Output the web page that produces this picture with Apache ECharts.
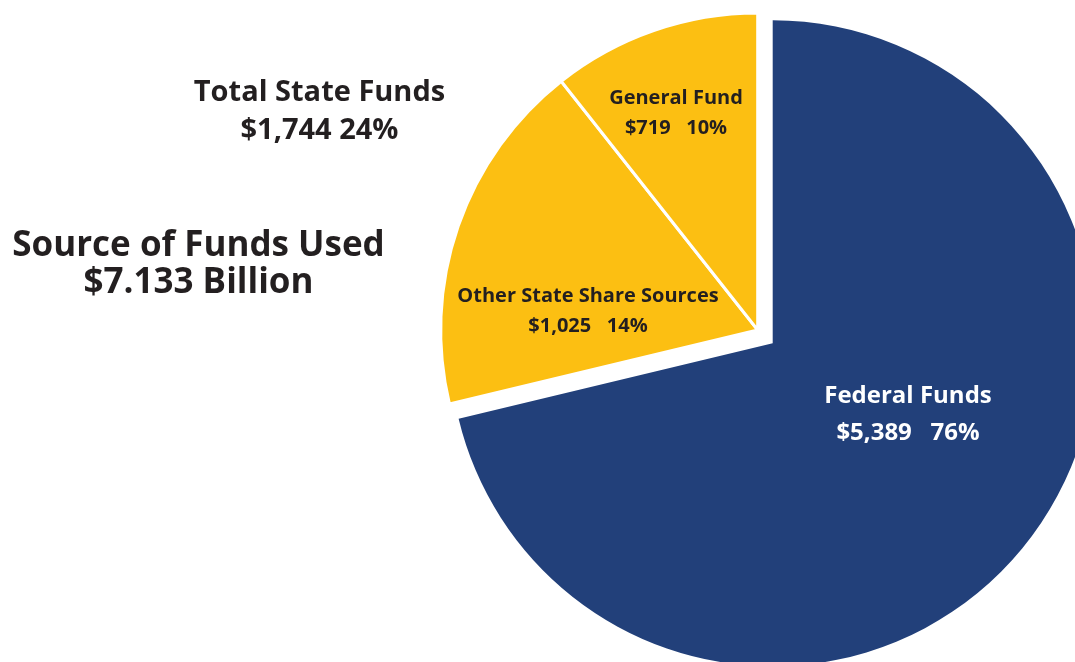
<!DOCTYPE html>
<html>
<head>
<meta charset="utf-8">
<script src="https://cdn.jsdelivr.net/npm/echarts@6/dist/echarts.min.js"></script>
<style>
html,body{margin:0;padding:0;background:#fff;}
#chart{width:1075px;height:662px;}
</style>
</head>
<body>
<div id="chart"></div>
<script>
// ---- data ----
const categories = ['Federal Funds', 'Other State Share Sources', 'General Fund'];
const amounts = ['$5,389', '$1,025', '$719'];          // $ millions, as labelled
const percents = ['76%', '14%', '10%'];                 // as labelled
const sliceShare = [71.25, 18.11, 10.64];               // share of the circle as drawn (%)
const stateTotal = ['Total State Funds', '$1,744 24%'];
const grandTotal = ['Source of Funds Used', '$7.133 Billion'];

// ---- style ----
const BLUE = '#22407A';
const GOLD = '#FCBF12';
const INK = '#231F20';
const FONT = '"Open Sans"';
const labelPos = [[908, 415], [588, 311], [676, 113]];

const chart = echarts.init(document.getElementById('chart'));

function items(showIdx) {
  return categories.map((c, i) => {
    const shown = showIdx.includes(i);
    const color = i === 0 ? BLUE : GOLD;
    const big = i === 0;
    const st = { fontFamily: FONT, fontWeight: 'bold', fontSize: big ? 24 : 20, lineHeight: big ? 37 : 30, color: big ? '#fff' : INK };
    return {
      name: c,
      value: sliceShare[i],
      itemStyle: shown
        ? { color: color, borderColor: '#fff', borderWidth: i === 0 ? 0 : 3 }
        : { color: 'rgba(0,0,0,0)', borderWidth: 0 },
      label: shown
        ? {
            show: true,
            color: st.color,
            formatter: '{n|' + c + '}\n{v|' + amounts[i] + '   ' + percents[i] + '}',
            rich: { n: st, v: st }
          }
        : { show: false }
    };
  });
}

const common = {
  type: 'pie',
  startAngle: 90,
  clockwise: true,
  avoidLabelOverlap: false,
  animation: false,
  silent: true,
  labelLine: { show: false },
  label: { position: 'inside', align: 'center', verticalAlign: 'middle' },
  emphasis: { disabled: true },
  labelLayout: function (p) {
    const pos = labelPos[p.dataIndex];
    return { x: pos[0], y: pos[1], align: 'center', verticalAlign: 'middle' };
  }
};

chart.setOption({
  backgroundColor: '#fff',
  animation: false,
  series: [
    Object.assign({}, common, { center: [772.7, 343.3], radius: 323, data: items([0]), z: 2 }),
    Object.assign({}, common, { center: [757.7, 330], radius: 317, data: items([1, 2]), z: 3 })
  ],
  graphic: [
    {
      type: 'text', x: 319.5, y: 112, z: 10,
      style: {
        text: stateTotal.join('\n'), fill: INK, fontFamily: FONT, fontWeight: 'bold',
        fontSize: 29, lineHeight: 38, align: 'center', verticalAlign: 'middle'
      }
    },
    {
      type: 'text', x: 198.5, y: 265, z: 10,
      style: {
        text: grandTotal.join('\n'), fill: INK, fontFamily: FONT, fontWeight: 'bold',
        fontSize: 35, lineHeight: 37, align: 'center', verticalAlign: 'middle'
      }
    }
  ]
});
</script>
</body>
</html>
